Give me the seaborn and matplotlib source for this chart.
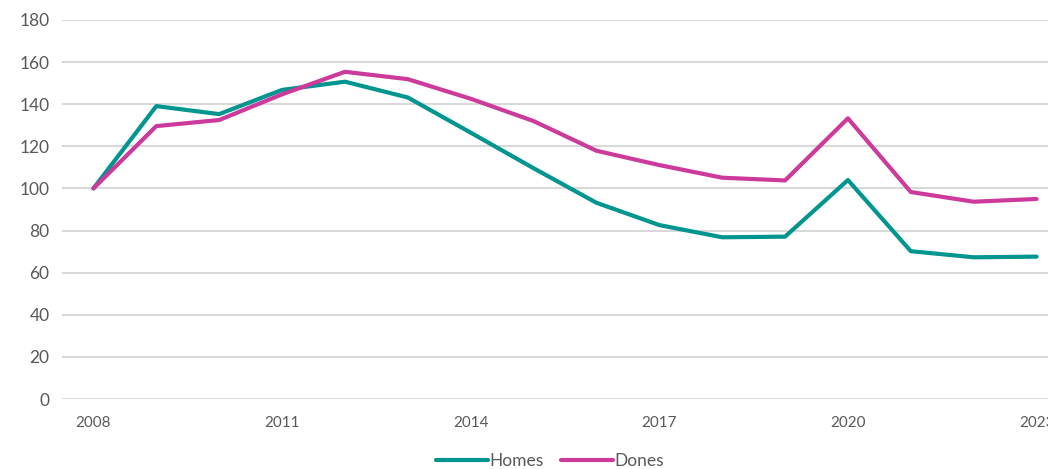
import numpy as np
import pandas as pd
import matplotlib
matplotlib.use("Agg")
import matplotlib.pyplot as plt
import seaborn as sns

# ---------- Data ----------
years = list(range(2008, 2024))
homes = [100, 139.1, 135.3, 146.8, 150.7, 143.2, 126.5, 109.6, 93.2, 82.6, 76.8, 77.1, 104.0, 70.2, 67.3, 67.6]
dones = [100, 129.6, 132.5, 144.7, 155.4, 151.9, 142.6, 132.0, 117.9, 111.1, 105.1, 103.8, 133.3, 98.3, 93.7, 95.0]
series_names = ["Homes", "Dones"]
colors = ["#00968F", "#CC3A9C"]

label_years = [2008, 2011, 2014, 2017, 2020, 2023]
tick_mark_years = [2009, 2012, 2015, 2018, 2021]
y_ticks = list(range(0, 181, 20))

df = pd.DataFrame({
    "year": years * 2,
    "value": homes + dones,
    "serie": [series_names[0]] * len(years) + [series_names[1]] * len(years),
})

# ---------- Style ----------
sns.set_style("white")
plt.rcParams["font.family"] = ["Lato", "DejaVu Sans"]

fig = plt.figure(figsize=(10.48, 4.69), dpi=100)
ax = fig.add_axes([62 / 1048, 1 - 399 / 469, (1068 - 62) / 1048, (399 - 20) / 469])

sns.lineplot(data=df, x="year", y="value", hue="serie", palette=colors,
             linewidth=3, ax=ax, legend=True)

ax.set_xlim(2007.5, 2023.5)
ax.set_ylim(0, 180)
ax.set_yticks(y_ticks)
ax.set_xticks(label_years)
ax.set_xticks(tick_mark_years, minor=True)
ax.tick_params(axis="x", which="major", length=0, pad=12, labelsize=11, labelcolor="#595959")
ax.tick_params(axis="x", which="minor", length=4, width=1.2, color="#CFCFCF")
ax.tick_params(axis="y", length=0, pad=9, labelsize=12.5, labelcolor="#595959")
ax.grid(axis="y", color="#D9D9D9", linewidth=1.5)
ax.set_axisbelow(True)
for s in ax.spines.values():
    s.set_visible(False)
ax.set_xlabel("")
ax.set_ylabel("")

handles, labels = ax.get_legend_handles_labels()
ax.legend(handles, labels, loc="center", bbox_to_anchor=(550 / 1048, 1 - 461 / 469),
          bbox_transform=fig.transFigure, ncol=2, frameon=False,
          handlelength=3.0, handletextpad=0.1, columnspacing=1.0,
          prop={"size": 12.5}, labelcolor="#595959")

fig.savefig("out.png", dpi=100)
